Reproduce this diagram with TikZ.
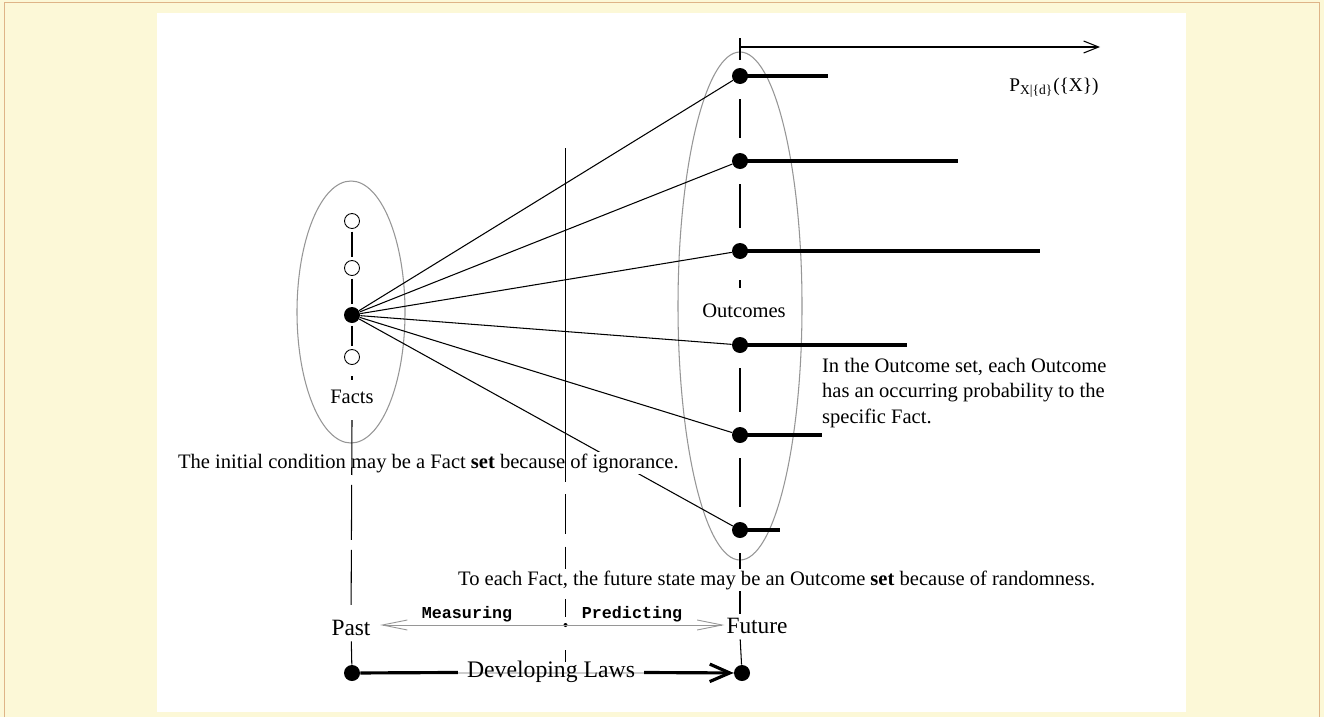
\documentclass[tikz,border=0pt]{standalone}
\usepackage{fontspec}
\setmainfont{Liberation Serif}
\newfontfamily\lawmono{Liberation Mono}
\usepackage{tikz}
\usetikzlibrary{arrows.meta,positioning}

\definecolor{pagecream}{RGB}{252,248,215}
\definecolor{frametan}{RGB}{222,180,135}
\definecolor{setgray}{RGB}{150,150,150}
\definecolor{lawgray}{RGB}{205,205,205}

\tikzset{
  fact/.style={circle, draw, fill=white, line width=0.5pt, inner sep=0pt, minimum size=0.3cm},
  bigdot/.style={circle, fill=black, inner sep=0pt, minimum size=0.32cm},
  tinydot/.style={circle, fill=black, inner sep=0pt, minimum size=0.08cm},
  setoval/.style={draw=setgray, line width=0.6pt},
  ray/.style={line width=0.6pt},
  bar/.style={line width=1.8pt},
  link/.style={line width=0.6pt, shorten <=1.5pt, shorten >=1.5pt},
  longdash/.style={line width=0.6pt, dash pattern=on 1.1cm off 0.2cm},
  middash/.style={line width=0.6pt, dash pattern=on 0.8cm off 0.25cm},
  txt/.style={font=\fontsize{11.7}{14}\selectfont, inner sep=1pt},
  bigtxt/.style={font=\fontsize{13.3}{15}\selectfont, inner sep=1pt},
  monotxt/.style={font=\lawmono\bfseries\fontsize{9.5}{11}\selectfont, inner sep=1pt},
  measure/.style={draw=setgray, line width=0.5pt,
    {Straight Barb[length=0.5cm,width=0.2cm]}-{Straight Barb[length=0.5cm,width=0.2cm]}},
  lawline/.style={line width=1.8pt},
}

\begin{document}
\begin{tikzpicture}[x=0.02cm, y=-0.02cm]
  % Page and frame
  \useasboundingbox (0,0) rectangle (1324,717);
  \fill[pagecream] (0,0) rectangle (1324,717);
  \draw[frametan, line width=0.8pt] (4.5,717) -- (4.5,2.5) -- (1319.5,2.5) -- (1319.5,717);
  \fill[white] (157,13) rectangle (1186,712);

  % Fact set and Outcome set
  \draw[setoval] (351,312) ellipse [x radius=54, y radius=131];
  \draw[setoval] (740,306) ellipse [x radius=62, y radius=254];

  % Probability axis
  \coordinate (axo) at (740,47);
  \coordinate (axend) at (1100,47);
  \coordinate (ticktop) at (740,38);
  \coordinate (tickbot) at (740,60);
  \draw[line width=0.6pt, -{Straight Barb[length=0.3cm,width=0.24cm]}] (axo) -- (axend);
  \draw[line width=0.6pt] (ticktop) -- (tickbot);
  \node[txt, font=\fontsize{11}{13}\selectfont] (prob) at (1054,88) {P\textsubscript{X|\{d\}}(\{X\})};

  % Facts
  \node[fact] (f1) at (352,221) {};
  \node[fact] (f2) at (352,268) {};
  \node[bigdot] (f3) at (352,315) {};
  \node[fact] (f4) at (352,357) {};
  \coordinate (f5a) at (352,376);
  \coordinate (f5b) at (352,380);
  \node[txt] (facts) at (352,397) {Facts};
  \draw[link] (f1) -- (f2);
  \draw[link] (f2) -- (f3);
  \draw[link] (f3) -- (f4);
  \draw[line width=0.6pt] (f5a) -- (f5b);

  % Outcomes, rays and probability bars
  \foreach \y/\xe [count=\i] in {76/828,161/958,251/1040,345/907,435/822,530/780}{
    \node[bigdot] (o\i) at (740,\y) {};
    \coordinate (b\i) at (\xe,\y);
    \draw[ray] (f3) -- (o\i);
    \draw[bar] (o\i.center) -- (b\i);
  }
  \node[txt] (outlabel) at (744,311) {Outcomes};
  \coordinate (od1) at (740,280);
  \coordinate (od2) at (740,288);
  \draw[line width=0.6pt] (od1) -- (od2);
  \foreach \i/\j in {1/2,2/3,4/5,5/6}
    \draw[link, shorten <=0.3cm, shorten >=0.3cm] (o\i) -- (o\j);

  \node[txt, anchor=north west, align=left, font=\fontsize{11.7}{14.5}\selectfont]
    (note) at (820,356) {In the Outcome set, each Outcome\\has an occurring probability to the\\specific Fact.};

  % Initial condition
  \node[txt, fill=white, anchor=west] (initial) at (176,463)
    {The initial condition may be a Fact \textbf{set} because of ignorance.};

  % Time line
  \node[bigtxt] (past) at (351,628) {Past};
  \node[bigtxt] (future) at (757,626) {Future};
  \node[bigdot] (pastdot) at (352,673) {};
  \node[bigdot] (futuredot) at (742,673) {};
  \node[tinydot] (mid) at (565.5,625) {};
  \coordinate (pasttop) at (352,420);
  \coordinate (midtop) at (565.5,148);
  \coordinate (midbreak) at (565.5,482);
  \coordinate (middash) at (565.5,494);
  \coordinate (midlowa) at (565.5,650);
  \coordinate (midlowb) at (565.5,662);

  \draw[longdash, shorten >=4pt] (pasttop) -- (past);
  \draw[line width=0.6pt, shorten <=2pt] (past) -- (pastdot);
  \draw[line width=0.5pt] (midtop) -- (midbreak);
  \draw[middash, line width=0.5pt, shorten >=3pt] (middash) -- (mid);
  \draw[line width=0.5pt] (midlowa) -- (midlowb);
  \draw[link, shorten <=0.3cm] (o6) -- (o6 |- future.north);
  \draw[line width=0.6pt, shorten <=2pt] (o6 |- future.south) -- (futuredot);

  \draw[measure, shorten <=0.15cm] (past.east |- mid) -- (future.west |- mid);
  \node[monotxt] (measuring) at (467,614) {Measuring};
  \node[monotxt] (predicting) at (632,614) {Predicting};

  % Developing laws
  \draw[lawgray, line width=1.5pt] (pastdot) -- (futuredot);
  \node[bigtxt, font=\fontsize{13.5}{15}\selectfont] (laws) at (551,672) {Developing Laws};
  \draw[lawline, shorten >=4pt] (pastdot) -- (laws);
  \draw[lawline, shorten <=4pt, -{Straight Barb[length=0.4cm,width=0.35cm]}] (laws) -- (futuredot);

  % Randomness
  \node[txt, fill=white, anchor=west] (random) at (456,580)
    {To each Fact, the future state may be an Outcome \textbf{set} because of randomness.};
\end{tikzpicture}
\end{document}
